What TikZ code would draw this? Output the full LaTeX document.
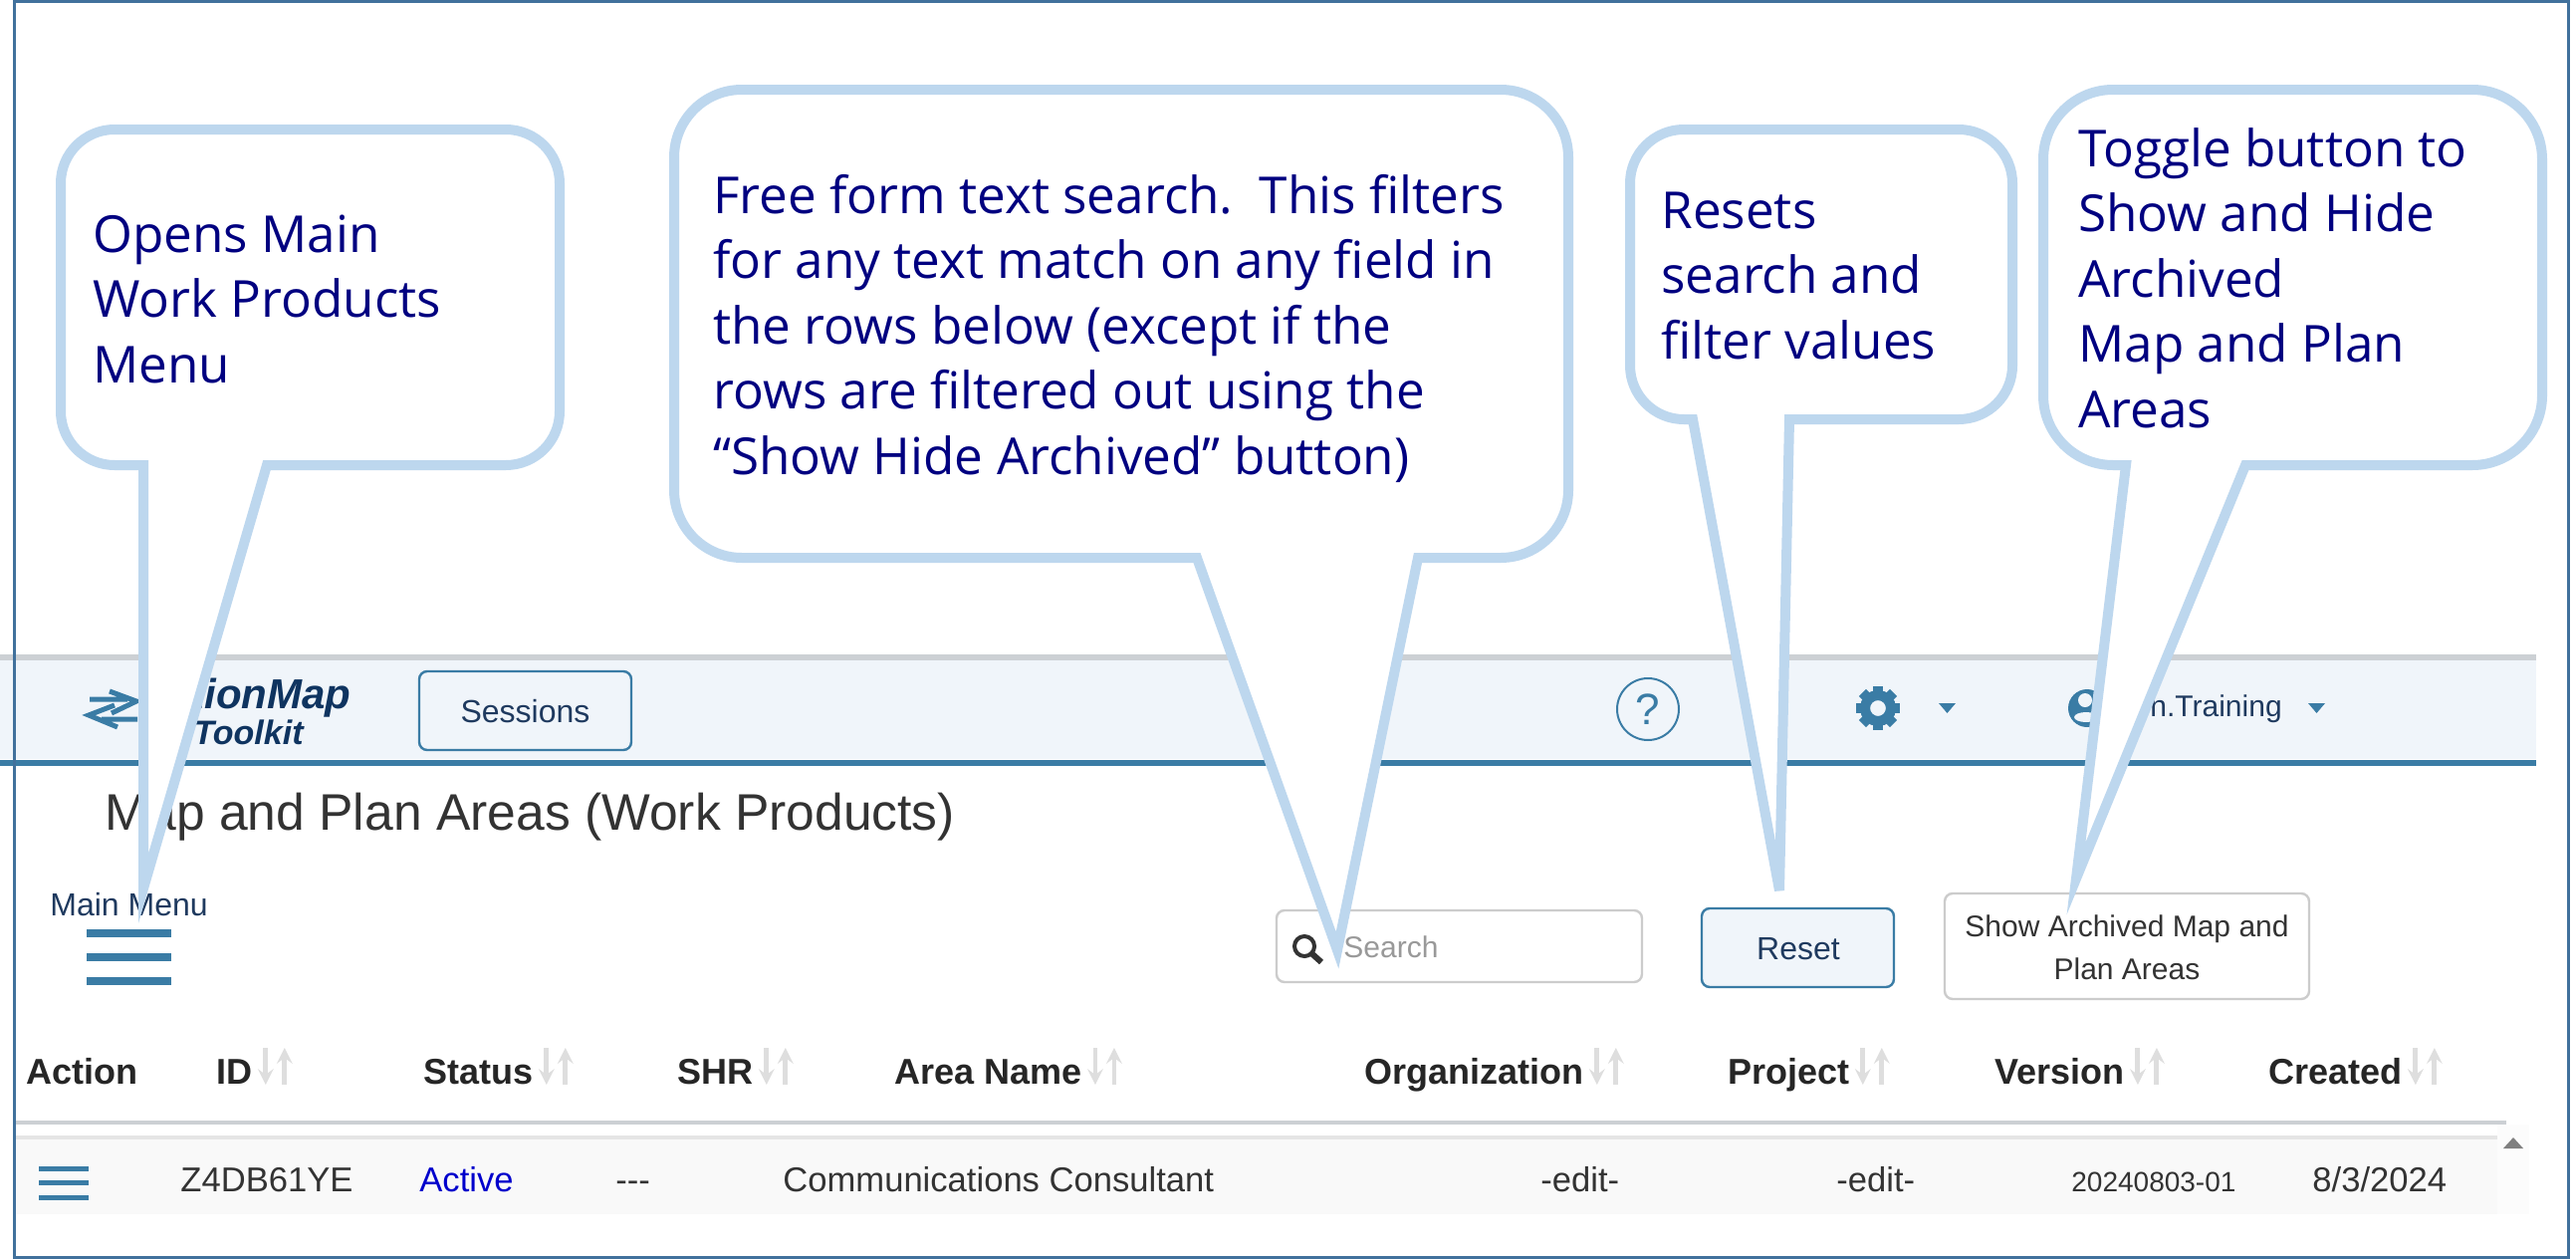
\documentclass[tikz,border=0pt]{standalone}
\usepackage{fontspec}
\usepackage{tikz}
\setmainfont{Liberation Sans}
\newfontfamily\notefont{Open Sans}
\definecolor{calloutblue}{HTML}{BDD7EE}
\definecolor{framecol}{HTML}{41719C}
\definecolor{notetext}{HTML}{000080}
\definecolor{barfill}{HTML}{F0F5FA}
\definecolor{steelcol}{HTML}{3A7CA5}
\definecolor{inkcol}{HTML}{1F3A5F}
\definecolor{logocol}{HTML}{0F3460}

\begin{document}
\begin{tikzpicture}[x=0.5pt, y=-0.5pt, >=stealth,
        callout/.style={draw=calloutblue, fill=white, line width=5pt, line join=miter, miter limit=30},
        note/.style={anchor=base west, align=left, inner sep=0pt, text=notetext, font=\notefont\fontsize{25.6}{32.7}\selectfont},
        label/.style={anchor=base west, inner sep=0pt, text=black!80, font=\fontsize{17.3}{21}\selectfont},
        header/.style={anchor=base west, inner sep=0pt, text=black!85, font=\bfseries\fontsize{18}{22}\selectfont},
        bluebtn/.style={draw=steelcol, line width=1.2pt, rounded corners=4pt, fill=barfill},
        greybtn/.style={draw=black!20, line width=1.2pt, rounded corners=4pt, fill=white},
        burger/.style={draw=steelcol, line width=4pt},
        sortarrow/.style={->, draw=black!13, line width=2.4pt}]

    \path[use as bounding box] (0,0) rectangle (2587,1264);
    \fill[white] (0,0) rectangle (2587,1264);

    \fill[barfill] (0,663) rectangle (2547,762);
    \fill[black!15!barfill] (0,657) rectangle (2547,663);
    \fill[steelcol] (0,763) rectangle (2547,769);

    \draw[steelcol, line width=2.5pt] (90,702) -- (128,702) (110,694) -- (137,704) -- (112,716);
    \draw[steelcol, line width=2.5pt] (138,722) -- (102,722) (115,708) -- (89,718) -- (118,730);
    \node[anchor=base west, inner sep=0pt, text=logocol, font=\bfseries\itshape\fontsize{21}{24}\selectfont] (logomap) at (191,711) {tionMap};
    \node[anchor=base west, inner sep=0pt, text=logocol, font=\bfseries\itshape\fontsize{17}{20}\selectfont] (logotool) at (194,747) {Toolkit};

    \draw[bluebtn] (421,674) rectangle (634,753);
    \node[inner sep=0pt, text=inkcol, font=\fontsize{16}{20}\selectfont] (sessions) at (527.5,714) {Sessions};

    \draw[steelcol, line width=1pt] (1655,712) circle [radius=31];
    \node[inner sep=0pt, text=steelcol, font=\fontsize{22}{26}\selectfont] (help) at (1655,712) {?};

    \draw[steelcol, line width=5pt] (1886,711) circle [radius=13];
    \foreach \a in {0,45,...,315}
        \draw[steelcol, line width=5pt] (1886,711) ++(\a:15) -- ++(\a:7);
    \fill[steelcol] (1947,706) -- (1964,706) -- (1955.5,716) -- cycle;

    \fill[steelcol] (2096,711) circle [radius=19];
    \fill[barfill] (2094,703) circle [radius=7];
    \fill[barfill] (2095,720) ellipse [x radius=12, y radius=5];
    \node[anchor=base west, inner sep=0pt, text=inkcol, font=\fontsize{15}{18}\selectfont] (user) at (2159,719) {n.Training};
    \fill[steelcol] (2318,706) -- (2335,706) -- (2326.5,716) -- cycle;

    \node[anchor=base west, inner sep=0pt, text=black!80, font=\fontsize{25.8}{30}\selectfont] (title) at (105,833) {Map and Plan Areas (Work Products)};

    \node[anchor=base west, inner sep=0pt, text=inkcol, font=\fontsize{16}{20}\selectfont] (mainmenu) at (50,919) {Main Menu};
    \draw[burger] (87,937) -- (172,937) (87,961) -- (172,961) (87,985) -- (172,985);

    \draw[greybtn] (1282,914) rectangle (1649,986);
    \draw[black!80, line width=2pt] (1310,950) circle [radius=10];
    \draw[black!80, line width=3pt] (1317,957) -- (1327,966);
    \node[anchor=base west, inner sep=0pt, text=black!40, font=\fontsize{15}{18}\selectfont] (search) at (1349,961) {Search};

    \draw[bluebtn] (1709,912) rectangle (1902,991);
    \node[anchor=base, inner sep=0pt, text=inkcol, font=\fontsize{16}{20}\selectfont] (reset) at (1806,963) {Reset};

    \draw[greybtn] (1953,897) rectangle (2319,1003);
    \node[align=center, inner sep=0pt, text=black!80, font=\fontsize{15}{21.5}\selectfont] (showbtn) at (2136,951) {Show Archived Map and\\Plan Areas};

    \node[header] (action) at (26,1088) {Action};
    \node[header] (hid) at (217,1088) {ID};
    \node[header] (hstatus) at (425,1088) {Status};
    \node[header] (hshr) at (680,1088) {SHR};
    \node[header] (harea) at (898,1088) {Area Name};
    \node[header] (horg) at (1370,1088) {Organization};
    \node[header] (hproject) at (1735,1088) {Project};
    \node[header] (hversion) at (2003,1088) {Version};
    \node[header] (hcreated) at (2278,1088) {Created};
    \foreach \h in {hid,hstatus,hshr,harea,horg,hproject,hversion,hcreated} {
        \draw[sortarrow] (\h.base east) ++(13,-36) -- ++(0,37);
        \draw[sortarrow] (\h.base east) ++(32,1) -- ++(0,-37);
    }

    \fill[black!15!barfill] (16,1125) rectangle (2517,1129);
    \fill[black!1] (2508,1129) rectangle (2540,1219);
    \fill[black!2.5] (16,1144) rectangle (2508,1219);
    \fill[black!10] (16,1140) rectangle (2508,1144);
    \fill[black!50] (2514,1153) -- (2534,1153) -- (2524,1142) -- cycle;

    \draw[steelcol, line width=2.5pt] (39,1173) -- (89,1173) (39,1187) -- (89,1187) (39,1202) -- (89,1202);
    \node[label] (rowid) at (181,1196) {Z4DB61YE};
    \node[label, text=blue!80!black] (rowstatus) at (421,1196) {Active};
    \node[label] (rowshr) at (618,1196) {-{}-{}-};
    \node[label] (rowarea) at (786,1196) {Communications Consultant};
    \node[label] (roworg) at (1547,1196) {-edit-};
    \node[label] (rowproject) at (1844,1196) {-edit-};
    \node[label, font=\fontsize{14}{18}\selectfont] (rowversion) at (2080,1196) {20240803-01};
    \node[label] (rowcreated) at (2322,1196) {8/3/2024};

    \draw[callout] (300,130) [rounded corners=27pt] -- (562,130) -- (562,467) [sharp corners] -- (268,467) -- (144,892) -- (144,467) [rounded corners=27pt] -- (61,467) -- (61,130) -- cycle;
    \draw[callout] (1100,90) [rounded corners=34pt] -- (1575,90) -- (1575,560) [sharp corners] -- (1424,560) -- (1343,954) -- (1202,560) [rounded corners=34pt] -- (677,560) -- (677,90) -- cycle;
    \draw[callout, miter limit=5] (1800,130) [rounded corners=27pt] -- (2021,130) -- (2021,421) [sharp corners] -- (1797,421) -- (1787,894) -- (1700,421) [rounded corners=27pt] -- (1637,421) -- (1637,130) -- cycle;
    \draw[callout] (2300,90) [rounded corners=35pt] -- (2553,90) -- (2553,467) [sharp corners] -- (2255,467) -- (2085,882) -- (2135,467) [rounded corners=35pt] -- (2052,467) -- (2052,90) -- cycle;

    \node[note] (opens) at (93,384) {Opens Main\\Work Products\\Menu};
    \node[note] (freeform) at (716,476) {Free form text search.\ \ This filters\\for any text match on any field in\\the rows below (except if the\\rows are filtered out using the\\“Show Hide Archived” button)};
    \node[note] (resets) at (1668,360) {Resets\\search and\\filter values};
    \node[note] (toggle) at (2087,429) {Toggle button to\\Show and Hide\\Archived\\Map and Plan\\Areas};

    \draw[framecol, line width=1.5pt] (14.5,1.5) rectangle (2579,1262.5);
\end{tikzpicture}
\end{document}
